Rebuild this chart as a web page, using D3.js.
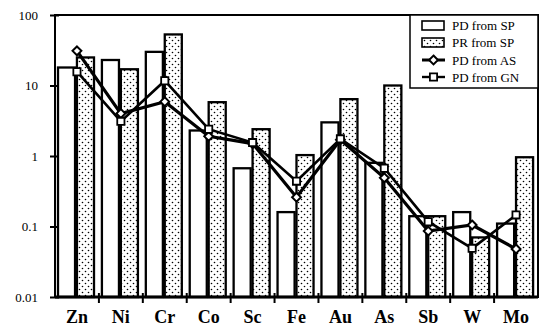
<!DOCTYPE html>
<html><head><meta charset="utf-8">
<script src="https://cdn.jsdelivr.net/npm/d3@7"></script>
<style>body{margin:0;background:#fff}svg{display:block}</style>
</head><body>
<script>
const categories = ["Zn","Ni","Cr","Co","Sc","Fe","Au","As","Sb","W","Mo"];
const pdFromSP = [18, 23, 30, 2.3, 0.67, 0.16, 3.0, 0.8, 0.14, 0.16, 0.11];
const prFromSP = [25, 17, 53, 5.8, 2.4, 1.03, 6.4, 10, 0.14, 0.07, 0.96];
const pdFromAS = [31, 4.0, 5.9, 1.9, 1.5, 0.26, 1.7, 0.49, 0.086, 0.105, 0.048];
const pdFromGN = [15.7, 3.1, 11.7, 2.4, 1.55, 0.44, 1.75, 0.67, 0.117, 0.049, 0.146];
const yTicks = [0.01, 0.1, 1, 10, 100];
const yTickLabels = ["0.01", "0.1", "1", "10", "100"];
const legendLabels = ["PD from SP", "PR from SP", "PD from AS", "PD from GN"];

const W = 539, H = 329;
const L = 55, R = 538, T = 15, B = 297;
const svg = d3.select("body").append("svg").attr("width", W).attr("height", H);

const defs = svg.append("defs");
const pat = defs.append("pattern").attr("id","dots").attr("patternUnits","userSpaceOnUse")
  .attr("width",6).attr("height",6);
pat.append("rect").attr("width",6).attr("height",6).attr("fill","#fff");
pat.append("circle").attr("cx",1.5).attr("cy",1.5).attr("r",0.8).attr("fill","#000");
pat.append("circle").attr("cx",4.5).attr("cy",4.5).attr("r",0.8).attr("fill","#000");

const x = d3.scaleBand().domain(categories).range([L, R]).padding(0);
const x1 = d3.scaleBand().domain(["pd","pr"]).range([3, 39]).paddingInner(0.1);
const y = d3.scaleLog().domain([0.01, 100]).range([B, T]);

// bars
const barSeries = [{key:"pd", vals: pdFromSP, fill:"#fff"}, {key:"pr", vals: prFromSP, fill:"url(#dots)"}];
barSeries.forEach(s => {
  svg.append("g").selectAll("rect").data(categories).join("rect")
    .attr("x", (c) => x(c) + x1(s.key))
    .attr("width", x1.bandwidth())
    .attr("y", (c,i) => y(s.vals[i]))
    .attr("height", (c,i) => B - y(s.vals[i]))
    .attr("fill", s.fill).attr("stroke","#000").attr("stroke-width",2.3);
});

// frame
svg.append("rect").attr("x",L).attr("y",T).attr("width",R-L).attr("height",B-T)
  .attr("fill","none").attr("stroke","#000").attr("stroke-width",2);
svg.append("line").attr("x1",L).attr("x2",R).attr("y1",B).attr("y2",B).attr("stroke","#000").attr("stroke-width",3);

// y axis
const yAxis = d3.axisLeft(y).tickValues(yTicks).tickFormat((d,i)=>yTickLabels[i]).tickSize(5).tickPadding(12);
const gy = svg.append("g").attr("transform",`translate(${L},0)`).call(yAxis);
gy.select(".domain").remove();
gy.selectAll(".tick line").attr("x2",-5).attr("x1",4).attr("stroke-width",2);
gy.selectAll("text").attr("font-family","'Liberation Serif', serif").attr("font-size",13).attr("fill","#000");

// x axis
const xAxis = d3.axisBottom(x).tickSize(0).tickPadding(13);
const gx = svg.append("g").attr("transform",`translate(0,${B})`).call(xAxis);
gx.select(".domain").remove();
gx.selectAll("text").attr("font-family","'Liberation Serif', serif").attr("font-size",18)
  .attr("font-weight","bold").attr("fill","#000");
const bounds = categories.map(c => x(c)).concat([x(categories[categories.length-1]) + x.bandwidth()]);
svg.append("g").selectAll("line").data(bounds.slice(1, -1)).join("line")
  .attr("x1", d => d).attr("x2", d => d).attr("y1", B - 4).attr("y2", B + 6)
  .attr("stroke","#000").attr("stroke-width",2);

// lines
const cx = c => x(c) + x.bandwidth()/2;
const lineGen = d3.line().x(d => cx(d.c)).y(d => y(d.v));
const asData = categories.map((c,i)=>({c, v: pdFromAS[i]}));
const gnData = categories.map((c,i)=>({c, v: pdFromGN[i]}));
svg.append("path").datum(asData).attr("d", lineGen).attr("fill","none").attr("stroke","#000").attr("stroke-width",3.2);
svg.append("path").datum(gnData).attr("d", lineGen).attr("fill","none").attr("stroke","#000").attr("stroke-width",2.6);

const diamond = d3.symbol().type(d3.symbolDiamond2).size(50);
const square = d3.symbol().type(d3.symbolSquare).size(52);
svg.append("g").selectAll("path").data(asData).join("path")
  .attr("d", diamond).attr("transform", d => `translate(${cx(d.c)},${y(d.v)})`)
  .attr("fill","#fff").attr("stroke","#000").attr("stroke-width",2);
svg.append("g").selectAll("path").data(gnData).join("path")
  .attr("d", square).attr("transform", d => `translate(${cx(d.c)},${y(d.v)})`)
  .attr("fill","#fff").attr("stroke","#000").attr("stroke-width",1.8);

// legend
const lg = svg.append("g");
lg.append("rect").attr("x",410).attr("y",T).attr("width",R-410).attr("height",73)
  .attr("fill","#fff").attr("stroke","#000").attr("stroke-width",1.5);
const rowY = [25.5, 42.5, 60, 77];
lg.append("rect").attr("x",422).attr("y",rowY[0]-4.5).attr("width",22).attr("height",9)
  .attr("fill","#fff").attr("stroke","#000").attr("stroke-width",1.6);
lg.append("rect").attr("x",422).attr("y",rowY[1]-4.5).attr("width",22).attr("height",9)
  .attr("fill","url(#dots)").attr("stroke","#000").attr("stroke-width",1.6);
[2,3].forEach(k => {
  lg.append("line").attr("x1",422).attr("x2",445).attr("y1",rowY[k]).attr("y2",rowY[k])
    .attr("stroke","#000").attr("stroke-width", k===2 ? 3 : 2.4);
});
lg.append("path").attr("d", diamond).attr("transform",`translate(433.5,${rowY[2]})`)
  .attr("fill","#fff").attr("stroke","#000").attr("stroke-width",2);
lg.append("path").attr("d", square).attr("transform",`translate(433.5,${rowY[3]})`)
  .attr("fill","#fff").attr("stroke","#000").attr("stroke-width",1.8);
lg.selectAll("text.lab").data(legendLabels).join("text").attr("class","lab")
  .attr("x",452).attr("y",(d,i)=>rowY[i]+4.5).text(d=>d)
  .attr("font-family","'Liberation Serif', serif").attr("font-size",13).attr("fill","#000");
</script>
</body></html>
